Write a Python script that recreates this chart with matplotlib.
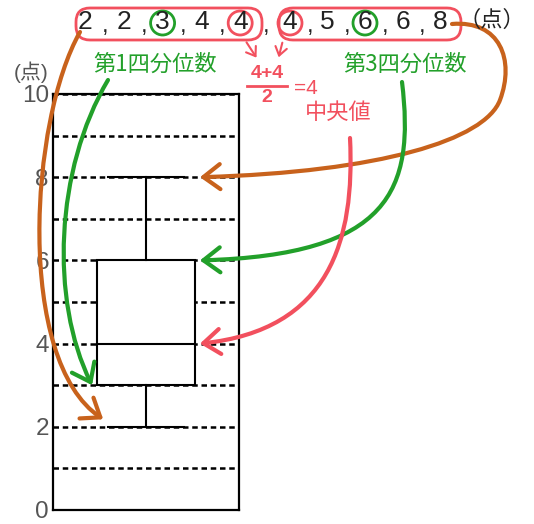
import numpy as np
import matplotlib
matplotlib.use('Agg')
import matplotlib.pyplot as plt
from matplotlib.patches import FancyArrowPatch, FancyBboxPatch, Circle
from matplotlib.path import Path

plt.rcParams['font.family'] = ['Liberation Sans', 'Noto Sans CJK JP', 'DejaVu Sans']

# data
scores = [2, 2, 3, 4, 4, 4, 5, 6, 6, 8]
unit = '（点）'
axis_unit = '(点)'
yticks = [0, 2, 4, 6, 8, 10]
q1_label = '第1四分位数'
q3_label = '第3四分位数'
med_label = '中央値'

n = len(scores)
lower = scores[:n // 2]
upper = scores[n // 2:]
stats = dict(med=np.median(scores), q1=np.median(lower), q3=np.median(upper),
             whislo=min(scores), whishi=max(scores), fliers=[])

ORANGE = '#c8621c'
GREEN = '#22a02a'
RED = '#f2505e'
GRAY = '#555555'

fig = plt.figure(figsize=(5.34, 5.24), dpi=100)
ax = fig.add_axes([53 / 534, 14 / 524, 186 / 534, 416 / 524])

ax.bxp([stats], positions=[0.5], widths=0.53, capwidths=0.41, patch_artist=True,
       showfliers=False,
       boxprops=dict(facecolor='white', edgecolor='black', linewidth=1.5),
       medianprops=dict(color='black', linewidth=1.5),
       whiskerprops=dict(color='black', linewidth=1.5),
       capprops=dict(color='black', linewidth=1.5))
ax.set_xlim(0, 1)
ax.set_ylim(0, 10)
ax.set_xticks([])
ax.set_yticks(yticks)
ax.set_yticks(range(1, 10), minor=True)
ax.grid(True, which='both', axis='y', color='black', linestyle=(0, (2.2, 1.5)), linewidth=1.8)
ax.set_axisbelow(True)
ax.tick_params(axis='y', which='both', length=0, pad=3, labelsize=17.5, labelcolor=GRAY)
for s in ax.spines.values():
    s.set_linewidth(1.6)

# overlay in pixel coords for the hand-drawn notes
ov = fig.add_axes([0, 0, 1, 1], zorder=5)
ov.set_xlim(0, 534)
ov.set_ylim(524, 0)
ov.axis('off')
ov.patch.set_visible(False)


def to_px(x, y):
    return ov.transData.inverted().transform(ax.transData.transform((x, y)))


ov.text(31, 72, axis_unit, fontsize=15, color=GRAY, ha='center', va='center')

# list of scores along the top
xs = [85 + i * 38.8 if i < n // 2 else 290 + (i - n // 2) * 37.5 for i in range(n)]
for i, v in enumerate(scores):
    ov.text(xs[i], 22, str(v), fontsize=19, color='#222222', ha='center', va='center')
    if i < n - 1:
        ov.text((xs[i] + xs[i + 1]) / 2 + 1, 26, ',', fontsize=17, color='#222222',
                ha='center', va='center')
ov.text(492, 20, unit, fontsize=16, color='#222222', ha='center', va='center',
        family=['Noto Sans CJK JP', 'DejaVu Sans'])

ov.add_patch(FancyBboxPatch((76, 8), 186, 32, boxstyle='round,pad=0,rounding_size=14',
                            fill=False, ec=RED, lw=2))
ov.add_patch(FancyBboxPatch((279, 8), 182, 32, boxstyle='round,pad=0,rounding_size=14',
                            fill=False, ec=RED, lw=2))

i_q1 = len(lower) // 2
i_q3 = n // 2 + len(upper) // 2
for i in (i_q1, i_q3):
    ov.add_patch(Circle((xs[i], 23), 12, fill=False, ec=GREEN, lw=2))
for i in (n // 2 - 1, n // 2):
    ov.add_patch(Circle((xs[i], 23), 12, fill=False, ec=RED, lw=2))

cjk = ['Noto Sans CJK JP', 'DejaVu Sans']
ov.text(155, 64, q1_label, fontsize=16, color=GREEN, ha='center', va='center', family=cjk)
ov.text(405, 64, q3_label, fontsize=16, color=GREEN, ha='center', va='center', family=cjk)
ov.text(267, 74, '4+4', fontsize=14, color=RED, ha='center', va='center', weight='bold')
ov.plot([247, 287], [86, 86], color=RED, lw=2)
ov.text(267, 98, '2', fontsize=14, color=RED, ha='center', va='center', weight='bold')
ov.text(306, 88, '=4', fontsize=15, color=RED, ha='center', va='center')
ov.text(338, 112, med_label, fontsize=16, color=RED, ha='center', va='center', family=cjk)


def arrow(pts, color):
    codes = [Path.MOVETO] + [Path.CURVE4] * (len(pts) - 1)
    p = FancyArrowPatch(path=Path(pts, codes), arrowstyle='->,head_length=0.8,head_width=0.6',
                        mutation_scale=15, color=color, lw=3, capstyle='round')
    ov.add_patch(p)


e = to_px(0.79, stats['whishi'])
arrow([(452, 24), (500, 20), (515, 60), (500, 100),
       (485, 140), (380, 172), tuple(e)], ORANGE)
e = to_px(0.27, stats['whislo'] + 0.18)
arrow([(80, 32), (30, 120), (15, 360), tuple(e)], ORANGE)
e = to_px(0.21, stats['q1'])
arrow([(108, 80), (55, 170), (50, 300), tuple(e)], GREEN)
e = to_px(0.79, stats['q3'])
arrow([(402, 82), (415, 190), (390, 255), tuple(e)], GREEN)
e = to_px(0.79, stats['med'])
arrow([(350, 138), (355, 240), (330, 330), tuple(e)], RED)

for a, b in [((245, 40), (258, 60)), ((283, 40), (278, 60))]:
    ov.annotate('', xy=b, xytext=a,
                arrowprops=dict(arrowstyle='->,head_length=0.5,head_width=0.35',
                                color=RED, lw=1.5, mutation_scale=12))

fig.savefig('out.png', dpi=100)
